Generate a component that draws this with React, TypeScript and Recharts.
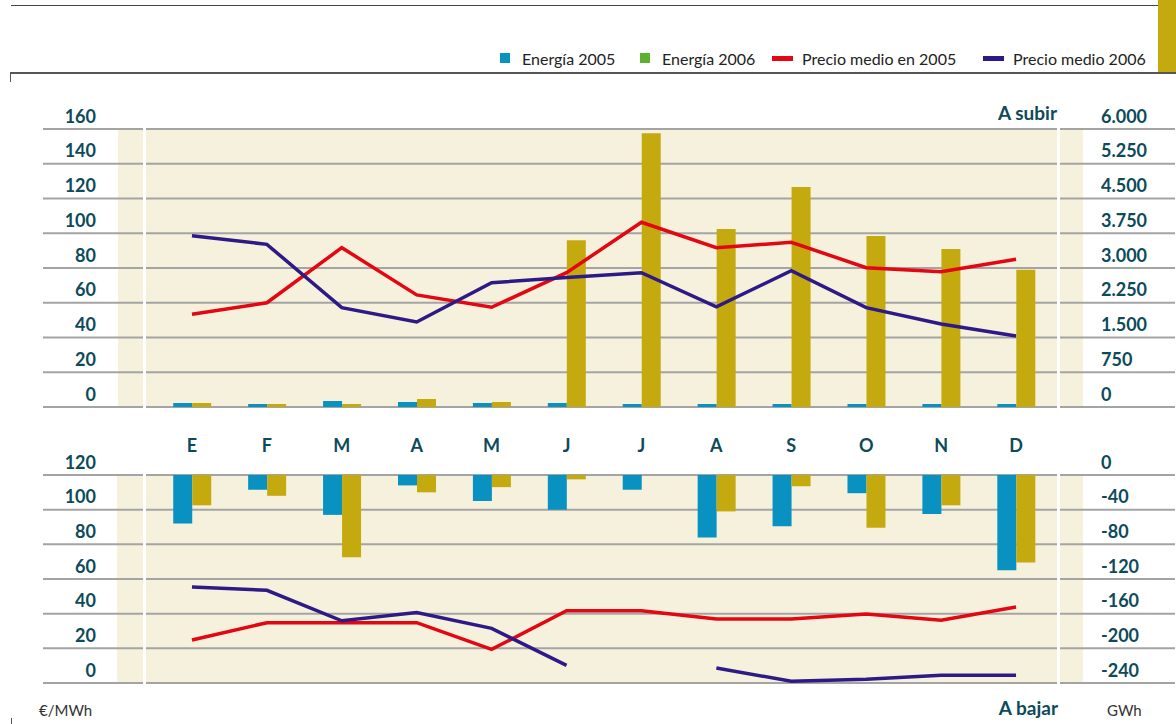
import React from "react";
import {
  ComposedChart,
  Bar,
  Line,
  XAxis,
  YAxis,
  CartesianGrid,
} from "recharts";

const months = ["E", "F", "M", "A", "M", "J", "J", "A", "S", "O", "N", "D"];

// A subir (upper panel)
const energia2005Up = [86, 65, 130, 108, 86, 86, 65, 65, 65, 65, 65, 65];
const energia2006Up = [86, 65, 65, 173, 108, 3600, 5910, 3840, 4750, 3690, 3410, 2960];
const precio2005Up = [53.4, 60.0, 91.7, 64.5, 57.4, 77.3, 106.3, 91.7, 94.8, 80.2, 77.9, 85.0];
const precio2006Up = [98.6, 93.6, 57.2, 48.9, 71.5, 74.6, 77.3, 57.7, 78.4, 57.2, 47.8, 40.9];

// A bajar (lower panel)
const energia2005Down = [-56, -17, -46, -12, -30, -40, -17, -72, -59, -21, -45, -110];
const energia2006Down = [-35, -24, -95, -20, -14, -5, 0, -42, -13, -61, -35, -101];
const precio2005Down = [24.8, 34.8, 34.8, 34.8, 19.4, 41.7, 41.7, 36.9, 36.9, 39.8, 36.2, 43.8];
const precio2006Down = [55.4, 53.5, 35.9, 40.6, 31.5, 10.2, null, 8.7, 1.0, 2.1, 4.4, 4.4];

const leftTicksUp = [0, 20, 40, 60, 80, 100, 120, 140, 160];
const rightTicksUp = [0, 750, 1500, 2250, 3000, 3750, 4500, 5250, 6000];
const leftTicksDown = [0, 20, 40, 60, 80, 100, 120];
const rightTicksDown = [-240, -200, -160, -120, -80, -40, 0];

const legendItems = [
  { label: "Energía 2005", color: "#0891c1", kind: "square", left: 500 },
  { label: "Energía 2006", color: "#5cb12e", kind: "square", left: 640 },
  { label: "Precio medio en 2005", color: "#e30613", kind: "line", left: 772 },
  { label: "Precio medio 2006", color: "#2e1a87", kind: "line", left: 983 },
];

const upData = months.map((m, i) => ({
  month: m,
  e2005: energia2005Up[i],
  e2006: energia2006Up[i],
  p2005: precio2005Up[i],
  p2006: precio2006Up[i],
}));

const downData = months.map((m, i) => ({
  month: m,
  e2005: energia2005Down[i],
  e2006: energia2006Down[i],
  p2005: precio2005Down[i],
  p2006: precio2006Down[i],
}));

const TEAL = "#0d4a5a";
const BLUE = "#0891c1";
const GOLD = "#c4aa0e";
const RED = "#e30613";
const PURPLE = "#2e1a87";
const BEIGE = "#f6f1dc";
const GRID = "#a4a4a4";
const FONT = "Lato, 'Open Sans', sans-serif";

const fmt = (v: number) => v.toLocaleString("de-DE");

const LeftTick = ({ y, payload }: any) => (
  <text x={96} y={y - 13.5} textAnchor="end" dominantBaseline="central"
    fontSize={18} fontWeight={700} fill={TEAL} fontFamily={FONT}>
    {payload.value}
  </text>
);

const RightTick = ({ y, payload }: any) => (
  <text x={1101} y={y - 13.5} textAnchor="start" dominantBaseline="central"
    fontSize={18} fontWeight={700} fill={TEAL} fontFamily={FONT}>
    {fmt(payload.value)}
  </text>
);

const MonthTick = ({ x, payload }: any) => (
  <text x={x} y={15} textAnchor="middle" dominantBaseline="central"
    fontSize={18} fontWeight={700} fill={TEAL} fontFamily={FONT}>
    {payload.value}
  </text>
);

const abs = (style: React.CSSProperties): React.CSSProperties => ({ position: "absolute", ...style });

export default function App() {
  return (
    <div style={{ position: "relative", width: 1176, height: 724, background: "#fff", fontFamily: FONT, overflow: "hidden" }}>
      <style>{`body{margin:0}`}</style>

      {/* header rules */}
      <div style={abs({ left: 11, top: 5, width: 1165, height: 1, background: "#444" })} />
      <div style={abs({ left: 1158, top: 0, width: 18, height: 72, background: GOLD })} />
      <div style={abs({ left: 10, top: 72, width: 1166, height: 2, background: "#555" })} />
      <div style={abs({ left: 10, top: 72, width: 1, height: 10, background: "#555" })} />
      <div style={abs({ left: 11, top: 718, width: 1, height: 6, background: "#555" })} />

      {/* legend */}
      {legendItems.map((it) => (
        <div key={it.label} style={abs({ left: it.left, top: 48, height: 20, display: "flex", alignItems: "center", fontSize: 16, color: "#222", whiteSpace: "nowrap" })}>
          <span style={{
            display: "inline-block",
            width: it.kind === "square" ? 10 : 21,
            height: it.kind === "square" ? 10 : 5,
            background: it.color,
            marginRight: it.kind === "square" ? 12 : 9,
          }} />
          {it.label}
        </div>
      ))}

      {/* panel backgrounds */}
      <div style={abs({ left: 118, top: 129, width: 965, height: 278, background: BEIGE })} />
      <div style={abs({ left: 117, top: 475, width: 966, height: 208, background: BEIGE })} />

      <div style={abs({ left: 0, top: 0 })}>
        <ComposedChart width={1176} height={430} data={upData} barGap={0} barCategoryGap="25%"
          margin={{ top: 129, right: 0, bottom: 3, left: 42 }}>
          <CartesianGrid yAxisId="l" vertical={false} stroke={GRID} strokeWidth={2} />
          <XAxis dataKey="month" height={20} axisLine={false} tickLine={false}
            padding={{ left: 111.5, right: 121.5 }} tick={false} />
          <YAxis yAxisId="l" domain={[0, 160]} ticks={leftTicksUp} width={1}
            axisLine={false} tickLine={false} tick={<LeftTick />} interval={0} />
          <YAxis yAxisId="r" orientation="right" domain={[0, 6000]} ticks={rightTicksUp} width={1}
            axisLine={false} tickLine={false} tick={<RightTick />} interval={0} />
          <Bar yAxisId="r" dataKey="e2005" fill={BLUE} isAnimationActive={false} />
          <Bar yAxisId="r" dataKey="e2006" fill={GOLD} isAnimationActive={false} />
          <Line yAxisId="l" dataKey="p2005" type="linear" stroke={RED} strokeWidth={3.5}
            dot={false} activeDot={false} isAnimationActive={false} />
          <Line yAxisId="l" dataKey="p2006" type="linear" stroke={PURPLE} strokeWidth={3.5}
            dot={false} activeDot={false} isAnimationActive={false} />
        </ComposedChart>
      </div>

      <div style={abs({ left: 0, top: 430 })}>
        <ComposedChart width={1176} height={294} data={downData} barGap={0} barCategoryGap="25%"
          margin={{ top: 44, right: 0, bottom: 41, left: 42 }}>
          <CartesianGrid yAxisId="l" vertical={false} stroke={GRID} strokeWidth={2} />
          <XAxis dataKey="month" orientation="top" height={1} axisLine={false} tickLine={false}
            padding={{ left: 111.5, right: 121.5 }} tick={<MonthTick />} interval={0} />
          <YAxis yAxisId="l" domain={[0, 120]} ticks={leftTicksDown} width={1}
            axisLine={false} tickLine={false} tick={<LeftTick />} interval={0} />
          <YAxis yAxisId="r" orientation="right" domain={[-240, 0]} ticks={rightTicksDown} width={1}
            axisLine={false} tickLine={false} tick={<RightTick />} interval={0} />
          <Bar yAxisId="r" dataKey="e2005" fill={BLUE} isAnimationActive={false} />
          <Bar yAxisId="r" dataKey="e2006" fill={GOLD} isAnimationActive={false} />
          <Line yAxisId="l" dataKey="p2005" type="linear" stroke={RED} strokeWidth={3.5}
            dot={false} activeDot={false} isAnimationActive={false} />
          <Line yAxisId="l" dataKey="p2006" type="linear" stroke={PURPLE} strokeWidth={3.5}
            dot={false} activeDot={false} isAnimationActive={false} />
        </ComposedChart>
      </div>

      {/* white separators */}
      <div style={abs({ left: 143, top: 127, width: 3, height: 282, background: "#fff" })} />
      <div style={abs({ left: 1057, top: 127, width: 3, height: 282, background: "#fff" })} />
      <div style={abs({ left: 143, top: 473, width: 3, height: 212, background: "#fff" })} />
      <div style={abs({ left: 1057, top: 473, width: 3, height: 212, background: "#fff" })} />

      {/* titles & units */}
      <div style={abs({ right: 1176 - 1057, top: 101, fontSize: 19, fontWeight: 700, color: TEAL })}>A subir</div>
      <div style={abs({ right: 1176 - 1058, top: 696, fontSize: 19, fontWeight: 700, color: TEAL })}>A bajar</div>
      <div style={abs({ left: 39, top: 701, fontSize: 15, color: "#333" })}>€/MWh</div>
      <div style={abs({ left: 1107, top: 701, fontSize: 15, color: "#333" })}>GWh</div>
    </div>
  );
}
